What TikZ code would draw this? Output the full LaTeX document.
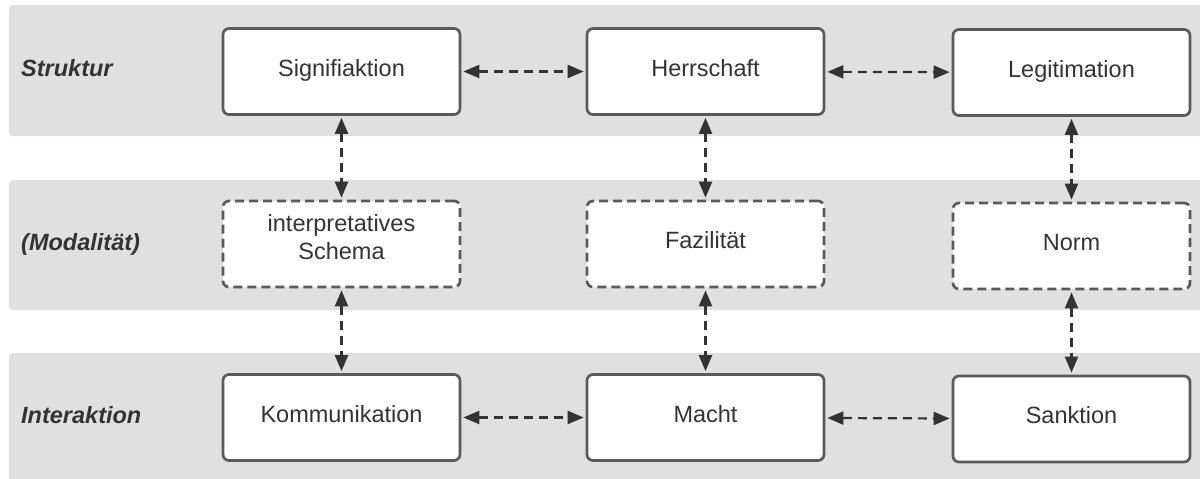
\documentclass[tikz,border=0pt]{standalone}
\usepackage{fontspec}
\setmainfont{Liberation Sans}
\usetikzlibrary{arrows.meta}

\definecolor{bandgray}{HTML}{E0E0E0}
\definecolor{boxline}{HTML}{5A5A5A}
\definecolor{inkdark}{HTML}{333333}

\tikzset{
  band/.style={fill=bandgray, rounded corners=4pt},
  rowlabel/.style={anchor=base west, inner sep=0pt, text=inkdark,
    font=\fontsize{23.5}{28}\selectfont\bfseries\itshape},
  concept/.style={draw=boxline, fill=white, line width=2.7pt, rounded corners=6pt,
    minimum width=237pt, minimum height=86pt, inner sep=0pt, text=inkdark,
    font=\fontsize{23.5}{28}\selectfont, text height=15pt, text depth=6pt},
  modality/.style={concept, dash pattern=on 9pt off 5pt},
  link/.style={draw=inkdark, line width=2.2pt, dash pattern=on 9pt off 6pt,
    {Triangle[length=16pt,width=13pt]}-{Triangle[length=16pt,width=13pt]},
    shorten <=2pt, shorten >=2pt},
}

\begin{document}
\begin{tikzpicture}[x=1pt,y=-1pt]
\useasboundingbox (0,0) rectangle (1200,479);

% background bands for the three levels
\fill[band] (9,5) rectangle (1215,136);
\fill[band] (9,180) rectangle (1215,310);
\fill[band] (9,353) rectangle (1215,495);

% level labels
\node[rowlabel] (lstruktur) at (21,76) {Struktur};
\node[rowlabel] (lmodal) at (21,250) {(Modalität)};
\node[rowlabel] (linter) at (21,423) {Interaktion};

% structure level
\node[concept] (sig) at (341.5,71.5) {Signifiaktion};
\node[concept] (her) at (705.5,71.5) {Herrschaft};
\node[concept] (leg) at (1071.5,72.5) {Legitimation};

% modality level
\node[modality, align=center, text height=40pt, text depth=9pt] (sch) at (341.5,244) {interpretatives\\Schema};
\node[modality] (faz) at (705.5,244) {Fazilität};
\node[modality] (nor) at (1071.5,246) {Norm};

% interaction level
\node[concept] (kom) at (341.5,417.5) {Kommunikation};
\node[concept] (mac) at (705.5,417.5) {Macht};
\node[concept] (san) at (1071.5,419) {Sanktion};

% horizontal links
\draw[link] (sig) -- (her);
\draw[link] (her) -- (leg);
\draw[link] (kom) -- (mac);
\draw[link] (mac) -- (san);

% vertical links
\draw[link] (sig.south) -- (sch.north);
\draw[link] (sch.south) -- (kom.north);
\draw[link] (her.south) -- (faz.north);
\draw[link] (faz.south) -- (mac.north);
\draw[link] (leg.south) -- (nor.north);
\draw[link] (nor.south) -- (san.north);
\end{tikzpicture}
\end{document}
